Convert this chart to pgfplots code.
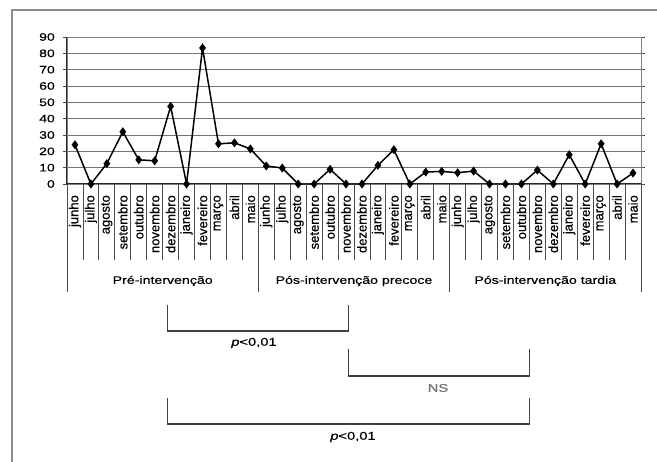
\documentclass[border=0pt]{standalone}
\usepackage{fontspec}
\setmainfont[FakeBold=0.5]{Liberation Sans}
\newfontfamily\wide[FakeStretch=1.3,FakeBold=0.5]{Liberation Sans}
\newfontfamily\mon[FakeBold=0.5]{Liberation Sans}
\usepackage{pgfplots}
\pgfplotsset{compat=1.18}
\pgfplotstableread{
x y
0 24
1 0
2 12.5
3 32
4 14.8
5 14.2
6 47.5
7 0
8 83.3
9 24.6
10 25.2
11 21.5
12 11
13 9.8
14 0
15 0
16 9
17 0
18 0
19 11.4
20 21
21 0
22 7.3
23 7.7
24 6.9
25 7.9
26 0
27 0
28 0
29 8.5
30 0
31 17.9
32 0
33 24.6
34 0
35 6.7
}\datatable
\begin{document}
\begin{tikzpicture}
\useasboundingbox (0pt,0pt) rectangle (657pt,462pt);
% outer frame
\draw[black!45, line width=1.5pt] (12pt,0pt) -- (12pt,452pt) -- (657pt,452pt);
\begin{axis}[
  at={(67pt,278pt)}, anchor=south west,
  scale only axis, width=574pt, height=147pt,
  xmin=-0.5, xmax=35.5, ymin=0, ymax=90,
  ytick={0,10,...,90},
  xtick={0,...,35},
  xticklabels={junho,julho,agosto,setembro,outubro,novembro,dezembro,janeiro,fevereiro,março,abril,maio,junho,julho,agosto,setembro,outubro,novembro,dezembro,janeiro,fevereiro,março,abril,maio,junho,julho,agosto,setembro,outubro,novembro,dezembro,janeiro,fevereiro,março,abril,maio},
  xtick style={draw=none},
  ytick align=outside,
  major tick length=4pt,
  ytick style={black!70, line width=0.8pt},
  xticklabel style={rotate=90, anchor=east, inner sep=0pt, font=\mon\fontsize{13}{14}\selectfont},
  xticklabel shift=11pt,
  yticklabel style={inner sep=0pt, font=\wide\fontsize{10.8}{12}\selectfont},
  yticklabel shift=8pt,
  /pgf/number format/assume math mode=true,
  ymajorgrids,
  major grid style={black!55, line width=0.8pt},
  axis line style={black!50, line width=0.8pt},
  clip=false,
]
\addplot[black, line width=1.5pt, mark=diamond*, mark size=3.3pt] table[x=x,y=y] {\datatable};
\draw[black!85, line width=1pt] (rel axis cs:0,1) -- (rel axis cs:0,0) -- (rel axis cs:1,0);
\end{axis}
% category separators
\foreach \k in {1,...,11,13,14,...,23,25,26,...,35}
  \draw[black!70, line width=0.8pt] (67pt+\k*15.944pt,278pt) -- ++(0pt,-76pt);
\foreach \k in {0,12,24,36}
  \draw[black!70, line width=0.8pt] (67pt+\k*15.944pt,278pt) -- ++(0pt,-108pt);
% group labels
\node[font=\wide\fontsize{10.9}{12}\selectfont] at (162.7pt,181pt) {Pré-intervenção};
\node[font=\wide\fontsize{10.9}{12}\selectfont] at (354pt,181pt) {Pós-intervenção precoce};
\node[font=\wide\fontsize{10.9}{12}\selectfont] at (545.3pt,181pt) {Pós-intervenção tardia};
% brackets
\draw[black!75, line width=1.2pt] (167.3pt,157pt) -- (167.3pt,131pt) -- (348.3pt,131pt) -- (348.3pt,157pt);
\node[font=\wide\fontsize{11.3}{12}\selectfont] at (254pt,119pt) {\textit{p}<0,01};
\draw[black!75, line width=1.2pt] (348.3pt,113pt) -- (348.3pt,86pt) -- (529.3pt,86pt) -- (529.3pt,113pt);
\node[font=\wide\fontsize{11.3}{12}\selectfont, text=black!55] at (438pt,74pt) {NS};
\draw[black!75, line width=1.2pt] (167.3pt,64pt) -- (167.3pt,38pt) -- (529.3pt,38pt) -- (529.3pt,64pt);
\node[font=\wide\fontsize{11.3}{12}\selectfont] at (353pt,25pt) {\textit{p}<0,01};
\end{tikzpicture}
\end{document}
